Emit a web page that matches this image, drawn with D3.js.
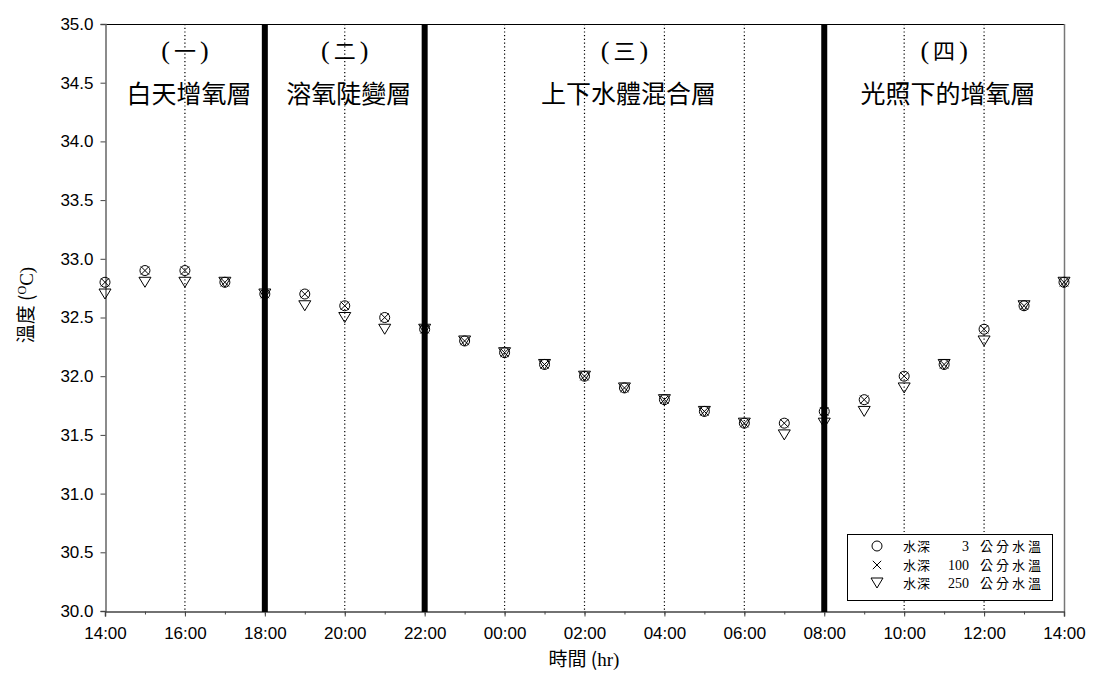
<!DOCTYPE html>
<html>
<head>
<meta charset="utf-8">
<script src="https://cdn.jsdelivr.net/npm/d3@7"></script>
<style>
  html, body { margin: 0; padding: 0; background: #fff; }
  svg { display: block; }
</style>
</head>
<body>
<svg id="chart" width="1104" height="686"></svg>
<script>
// ---- data ----
const hours = [0,1,2,3,4,5,6,7,8,9,10,11,12,13,14,15,16,17,18,19,20,21,22,23,24]; // hours since 14:00
const depth3 =   [32.8,32.9,32.9,32.8,32.7,32.7,32.6,32.5,32.4,32.3,32.2,32.1,32.0,31.9,31.8,31.7,31.6,31.6,31.7,31.8,32.0,32.1,32.4,32.6,32.8];
const depth100 = [32.8,32.9,32.9,32.8,32.7,32.7,32.6,32.5,32.4,32.3,32.2,32.1,32.0,31.9,31.8,31.7,31.6,31.6,31.7,31.8,32.0,32.1,32.4,32.6,32.8];
const depth250 = [32.7,32.8,32.8,32.8,32.7,32.6,32.5,32.4,32.4,32.3,32.2,32.1,32.0,31.9,31.8,31.7,31.6,31.5,31.6,31.7,31.9,32.1,32.3,32.6,32.8];
const xTickLabels = ["14:00","16:00","18:00","20:00","22:00","00:00","02:00","04:00","06:00","08:00","10:00","12:00","14:00"];
const yTicks = [30.0,30.5,31.0,31.5,32.0,32.5,33.0,33.5,34.0,34.5,35.0];
const dividers = [4, 8, 18];           // thick boundaries (18:00, 22:00, 08:00)
const gridHours = [2, 6, 10, 12, 14, 16, 20, 22]; // dotted lines
const zoneStarts = [0, 4, 8, 18];
const zoneEnds = [4, 8, 18, 24];
const zoneNums = ["一","二","三","四"];
const zoneNames = ["白天增氧層","溶氧陡變層","上下水體混合層","光照下的增氧層"];
const legendDepths = ["3","100","250"];

// ---- layout ----
const svg = d3.select("#chart");
const L = 105, R = 1064, T = 24, B = 611;
const x = d3.scaleLinear().domain([0, 24]).range([L, R]);
const y = d3.scaleLinear().domain([30, 35]).range([B, T]);
const sans = "'Liberation Sans', Arial, sans-serif";
const cjk = "'Noto Sans CJK TC', 'Noto Sans CJK SC', sans-serif";
const serif = "'Liberation Serif', 'Times New Roman', serif";

// dotted grid
svg.append("g").selectAll("line").data(gridHours).join("line")
  .attr("x1", d => x(d)).attr("x2", d => x(d))
  .attr("y1", T).attr("y2", B)
  .attr("stroke", "#000").attr("stroke-width", 1.2).attr("stroke-dasharray", "1.2,2.5");

// frame top & right
svg.append("line").attr("x1", L).attr("x2", R).attr("y1", T + 0.5).attr("y2", T + 0.5).attr("stroke", "#000").attr("stroke-width", 1.2);
svg.append("line").attr("x1", R + 0.5).attr("x2", R + 0.5).attr("y1", T).attr("y2", B).attr("stroke", "#777").attr("stroke-width", 1.5);

// y axis
const yAxis = d3.axisLeft(y).tickValues(yTicks).tickFormat(d3.format(".1f")).tickSize(5).tickPadding(7);
const gy = svg.append("g").attr("transform", `translate(${L + 0.5},0)`).call(yAxis);
gy.select(".domain").attr("stroke", "#666").attr("stroke-width", 1.5);
gy.selectAll(".tick line").attr("stroke", "#444");
gy.selectAll("text").attr("font-family", sans).attr("font-size", 17).attr("fill", "#000");

// x axis (minor every hour, major every 2 h)
const xMinor = d3.axisBottom(x).tickValues(d3.range(0, 25, 1)).tickSize(3).tickFormat("");
const gxm = svg.append("g").attr("transform", `translate(0,${B + 0.5})`).call(xMinor);
gxm.select(".domain").remove();
gxm.selectAll(".tick line").attr("stroke", "#444");
const xAxis = d3.axisBottom(x).tickValues(d3.range(0, 25, 2)).tickSize(5).tickPadding(10)
  .tickFormat((d, i) => xTickLabels[i]);
const gx = svg.append("g").attr("transform", `translate(0,${B + 0.5})`).call(xAxis);
gx.select(".domain").attr("stroke", "#444").attr("stroke-width", 1.5);
gx.selectAll(".tick line").attr("stroke", "#444");
gx.selectAll("text").attr("font-family", sans).attr("font-size", 17).attr("fill", "#000");

// thick dividers
svg.append("g").selectAll("line").data(dividers).join("line")
  .attr("x1", d => x(d)).attr("x2", d => x(d))
  .attr("y1", T).attr("y2", B + 1)
  .attr("stroke", "#000").attr("stroke-width", 6);

// zone labels
zoneNums.forEach((t, i) => {
  const cx = (x(zoneStarts[i]) + x(zoneEnds[i])) / 2;
  const tn = svg.append("text").attr("x", cx).attr("y", 59).attr("text-anchor", "middle")
    .attr("font-family", cjk).attr("font-size", 22);
  tn.append("tspan").attr("font-family", serif).attr("font-size", 26).text("(");
  tn.append("tspan").attr("dx", 4).text(t);
  tn.append("tspan").attr("dx", 4).attr("font-family", serif).attr("font-size", 26).text(")");
  svg.append("text").attr("x", cx + 4).attr("y", 103).attr("text-anchor", "middle")
    .attr("font-family", cjk).attr("font-size", 25).text(zoneNames[i]);
});

// markers
function drawCircle(g, cx, cy) {
  g.append("circle").attr("cx", cx).attr("cy", cy).attr("r", 5)
    .attr("fill", "none").attr("stroke", "#000").attr("stroke-width", 1);
}
function drawX(g, cx, cy) {
  const s = 4.2;
  g.append("path").attr("d", `M${cx - s},${cy - s}L${cx + s},${cy + s}M${cx - s},${cy + s}L${cx + s},${cy - s}`)
    .attr("stroke", "#000").attr("stroke-width", 1).attr("fill", "none");
}
function drawTri(g, cx, cy) {
  const w = 6, h = 5;
  g.append("path").attr("d", `M${cx - w},${cy - h}L${cx + w},${cy - h}L${cx},${cy + h}Z`)
    .attr("stroke", "#000").attr("stroke-width", 1).attr("fill", "none");
}
const gm = svg.append("g");
hours.forEach((h, i) => {
  drawTri(gm, x(h), y(depth250[i]));
  drawCircle(gm, x(h), y(depth3[i]));
  drawX(gm, x(h), y(depth100[i]));
});

// legend
const lg = svg.append("g");
lg.append("rect").attr("x", 847.5).attr("y", 534.5).attr("width", 205).attr("height", 66)
  .attr("fill", "#fff").attr("stroke", "#000").attr("stroke-width", 1);
const rowY = [546, 565, 583];
legendDepths.forEach((d, i) => {
  const cy = rowY[i];
  if (i === 0) drawCircle(lg, 877, cy);
  if (i === 1) drawX(lg, 877, cy);
  if (i === 2) drawTri(lg, 877, cy);
  lg.append("text").attr("x", 903).attr("y", cy + 5).attr("font-family", cjk).attr("font-size", 13).attr("letter-spacing", 1).text("水深");
  lg.append("text").attr("x", 969).attr("y", cy + 5).attr("text-anchor", "end").attr("font-family", serif).attr("font-size", 14).text(d);
  lg.append("text").attr("x", 980).attr("y", cy + 5).attr("font-family", cjk).attr("font-size", 13).attr("letter-spacing", 3).text("公分水溫");
});

// axis titles
const yt = svg.append("text").attr("transform", "translate(33,305) rotate(-90)").attr("text-anchor", "middle")
  .attr("font-family", cjk).attr("font-size", 19);
yt.append("tspan").text("溫度 (");
yt.append("tspan").attr("font-family", serif).attr("font-size", 12).attr("dy", -7).text("O");
yt.append("tspan").attr("font-family", serif).attr("font-size", 19).attr("dy", 7).text("C)");
const xt = svg.append("text").attr("x", 584).attr("y", 666).attr("text-anchor", "middle")
  .attr("font-family", cjk).attr("font-size", 19);
xt.append("tspan").text("時間 (");
xt.append("tspan").attr("font-family", serif).text("hr)");
</script>
</body>
</html>
